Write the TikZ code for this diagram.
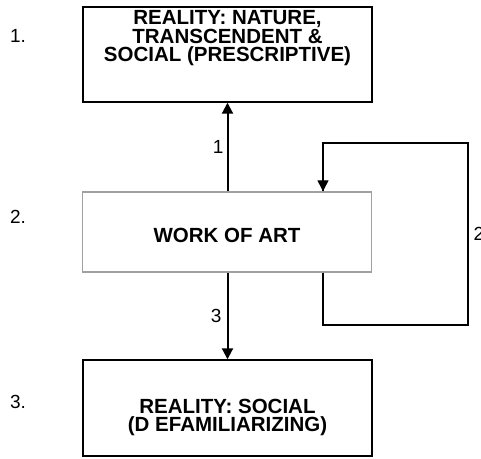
\documentclass[tikz,border=0pt]{standalone}
\usepackage{fontspec}
\setmainfont{Liberation Sans}
\usetikzlibrary{calc}
\usetikzlibrary{arrows.meta}
\definecolor{hgrey}{RGB}{160,160,160}
\tikzset{
  stage/.style={draw,line width=1.4pt,minimum width=289pt,inner sep=0pt,
    align=center,font=\fontsize{20.5}{18.6}\selectfont\bfseries},
  flow/.style={line width=2pt,-{Triangle[length=11pt,width=11pt]}},
  loopline/.style={line width=1.3pt},
  num/.style={font=\fontsize{19}{19}\selectfont}
}

\begin{document}
\begin{tikzpicture}[x=1pt,y=-1pt]
\useasboundingbox (0,0) rectangle (481,458);
\node [stage,minimum height=95pt,text depth=37pt] (top) at (227.5,54.5){REALITY: NATURE,\\TRANSCENDENT \&\\ SOCIAL (PRESCRIPTIVE)};
\node [stage,minimum height=80pt,text height=22pt,draw=hgrey] (art) at (227,232){WORK OF ART};
\node [stage,minimum height=96pt,text height=52pt] (bot) at (227.5,408){REALITY: SOCIAL\\(D EFAMILIARIZING)};
\node [num] (n1) at (18,36){1.};
\node [num] (n2) at (18,217){2.};
\node [num] (n3) at (18,402){3.};
\coordinate (loop1) at (323,325);
\coordinate (loop2) at (468,325);
\coordinate (loop3) at (468,143);
\coordinate (loop4) at (323,143);
\draw [flow] (art.north -| top.south) -- node[num,left,inner sep=3pt]{1} (top.south);
\draw [flow] (art.south -| bot.north) -- node[num,left,inner sep=5pt]{3} (bot.north);
\draw [loopline] (art.south -| loop1) -- (loop1) -- (loop2) -- node[num,right,inner sep=5pt]{2} (loop3) -- (loop4) -- (art.north -| loop4);
\draw [flow,line width=1.3pt] ($(loop4)!0.5!(art.north -| loop4)$) -- (art.north -| loop4);
\end{tikzpicture}
\end{document}
